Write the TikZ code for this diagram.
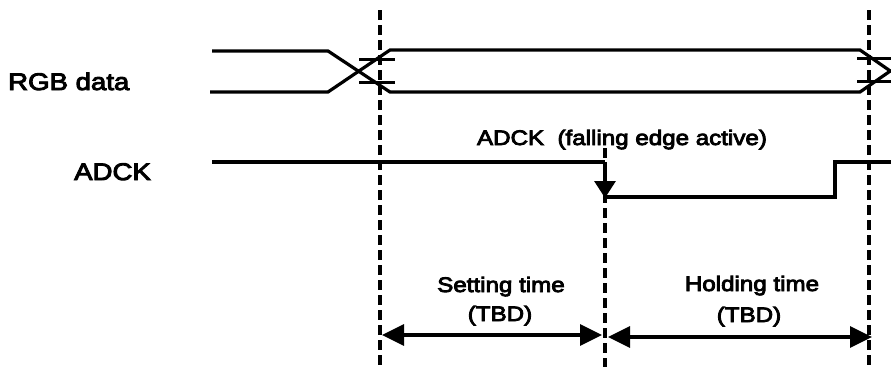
\documentclass[tikz,border=0pt]{standalone}
\usepackage{fontspec}
\setmainfont{Liberation Sans}[FakeStretch=1.15,FakeBold=4]
\usetikzlibrary{arrows.meta}
\begin{document}
\begin{tikzpicture}[x=1pt,y=-1pt,
  sig/.style={line width=3.2pt},
  guide/.style={line width=3.4pt, dash pattern=on 10pt off 5pt},
  tick/.style={line width=3pt},
  lbl/.style={font=\fontsize{21}{24}\selectfont, inner sep=0pt, anchor=base},
  big/.style={font=\fontsize{24}{28}\selectfont, inner sep=0pt, anchor=base west},
  dim/.style={line width=3.2pt, {Triangle[length=22pt,width=21pt]}-{Triangle[length=22pt,width=21pt]}},
  fall/.style={line width=3.2pt, -{Triangle[length=17pt,width=21pt]}}]
\useasboundingbox (0,0) rectangle (891,367);

% labels
\node[big] (rgb) at (8,90) {RGB data};
\node[big] (adckl) at (74,180) {ADCK};
\node[lbl] (edge) at (622,145) {ADCK\ \ (falling edge active)};
\node[lbl] (set1) at (501,292) {Setting time};
\node[lbl] (set2) at (500,321) {(TBD)};
\node[lbl] (hold1) at (752,291) {Holding time};
\node[lbl] (hold2) at (749,322) {(TBD)};

% guide coordinates
\coordinate (g1t) at (380,10);  \coordinate (g1b) at (380,367);
\coordinate (g2t) at (605,148); \coordinate (g2b) at (605,367);
\coordinate (g3t) at (869,10);  \coordinate (g3b) at (869,367);
\draw[guide] (g1t) -- (g1b);
\draw[guide] (g2t) -- (g2b);
\draw[guide] (g3t) -- (g3b);

% RGB data bus
\coordinate (ta) at (212,51);  \coordinate (tb) at (328,51);
\coordinate (ba) at (210,92);  \coordinate (bb) at (328,92);
\coordinate (tc) at (390,50);  \coordinate (td) at (860,50);
\coordinate (bc) at (390,92);  \coordinate (bd) at (860,92);
\coordinate (te) at (891,71.5); \coordinate (be) at (891,70.5);
\draw[sig] (ta) -- (tb) -- (bc) -- (bd) -- (be);
\draw[sig] (ba) -- (bb) -- (tc) -- (td) -- (te);

% ticks
\coordinate (k1a) at (359,59); \coordinate (k1b) at (395,59);
\coordinate (k2a) at (359,82); \coordinate (k2b) at (395,82);
\coordinate (k3a) at (857,58); \coordinate (k3b) at (891,58);
\coordinate (k4a) at (857,81); \coordinate (k4b) at (891,81);
\draw[tick] (k1a) -- (k1b);
\draw[tick] (k2a) -- (k2b);
\draw[tick] (k3a) -- (k3b);
\draw[tick] (k4a) -- (k4b);

% ADCK
\coordinate (c1) at (212,162); \coordinate (c2) at (605,162);
\coordinate (c3) at (605,198); \coordinate (c4) at (605,197);
\coordinate (c5) at (835,197); \coordinate (c6) at (835,162);
\coordinate (c7) at (891,162);
\draw[sig] (c1) -- (c2);
\draw[fall] (c2) -- (c3);
\draw[sig] (c4) -- (c5) -- (c6) -- (c7);

% dimension arrows
\coordinate (s1) at (382,335); \coordinate (s2) at (602,335);
\coordinate (h1) at (608,337); \coordinate (h2) at (872,337);
\draw[dim] (s1) -- (s2);
\draw[dim] (h1) -- (h2);
\end{tikzpicture}
\end{document}
